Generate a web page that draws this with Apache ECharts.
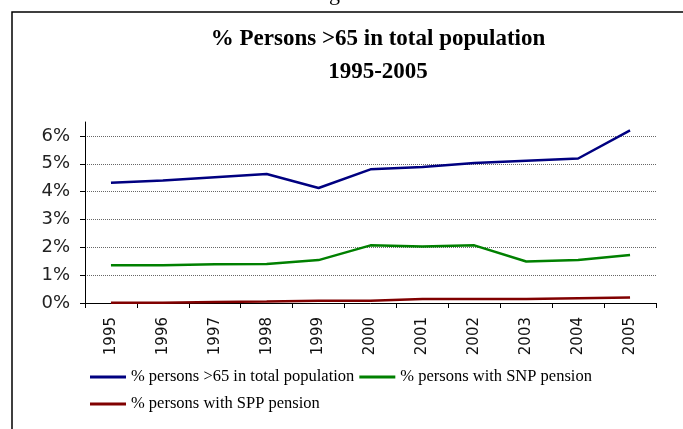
<!DOCTYPE html>
<html>
<head>
<meta charset="utf-8">
<script src="https://cdn.jsdelivr.net/npm/echarts@6/dist/echarts.min.js"></script>
<style>
html,body{margin:0;padding:0;background:#fff;}
#chart{width:683px;height:429px;}
</style>
</head>
<body>
<div id="chart"></div>
<script>
var years = ['1995','1996','1997','1998','1999','2000','2001','2002','2003','2004','2005'];
var seriesNames = ['% persons >65 in total population','% persons with SNP pension','% persons with SPP pension'];
var persons65 = [4.32,4.40,4.52,4.63,4.13,4.80,4.88,5.03,5.11,5.19,6.20];
var snpPension = [1.36,1.36,1.39,1.40,1.54,2.07,2.03,2.07,1.49,1.54,1.72];
var sppPension = [0.01,0.01,0.04,0.05,0.08,0.08,0.14,0.14,0.14,0.17,0.20];
var yTicks = [0,1,2,3,4,5,6];
var titleText = '% Persons >65 in total population\n1995-2005';

var chart = echarts.init(document.getElementById('chart'));
chart.setOption({
  animation:false,
  backgroundColor:'#fff',
  title:{
    text:titleText,
    left:373, top:18, textAlign:'center',
    textStyle:{fontFamily:'Liberation Serif',fontSize:23,fontWeight:'bold',color:'#000',lineHeight:33}
  },
  graphic:[
    {type:'rect',shape:{x:12,y:12,width:700,height:450},style:{fill:'none',stroke:'#000',lineWidth:1.5},silent:true},
    {type:'text',x:329,y:5,style:{text:'g',fontFamily:'Liberation Serif',fontSize:22,verticalAlign:'bottom',fill:'#000'}}
  ],
  grid:{left:85,right:27,top:122,bottom:126,containLabel:false},
  legend:{
    left:90, top:366, width:570, padding:0,
    itemWidth:36, itemHeight:3, itemGap:5, icon:'rect',
    textStyle:{fontFamily:'Liberation Serif',fontSize:16.5,color:'#000',lineHeight:22},
    data:seriesNames
  },
  xAxis:{
    type:'category', data:years, boundaryGap:true,
    axisLine:{lineStyle:{color:'#000',width:1}},
    axisTick:{show:true,length:5,lineStyle:{color:'#000'}},
    axisLabel:{rotate:90,margin:14,fontFamily:'DejaVu Sans',fontSize:15,color:'#111',interval:0}
  },
  yAxis:{
    type:'value', min:0, max:6.5, interval:1,
    axisLine:{show:true,lineStyle:{color:'#000',width:1}},
    axisTick:{show:true,length:5,lineStyle:{color:'#000'},customValues:yTicks},
    axisLabel:{formatter:'{value}%',fontFamily:'DejaVu Sans',fontSize:18,color:'#222',margin:15,customValues:yTicks},
    splitLine:{show:true,showMinLine:false,lineStyle:{color:'#666',type:'dotted',width:1}}
  },
  series:[
    {name:seriesNames[0],type:'line',data:persons65,symbol:'none',itemStyle:{color:'#000080'},lineStyle:{color:'#000080',width:2.5}},
    {name:seriesNames[1],type:'line',data:snpPension,symbol:'none',itemStyle:{color:'#008000'},lineStyle:{color:'#008000',width:2.5}},
    {name:seriesNames[2],type:'line',data:sppPension,symbol:'none',itemStyle:{color:'#800000'},lineStyle:{color:'#800000',width:2.5}}
  ]
});
</script>
</body>
</html>
